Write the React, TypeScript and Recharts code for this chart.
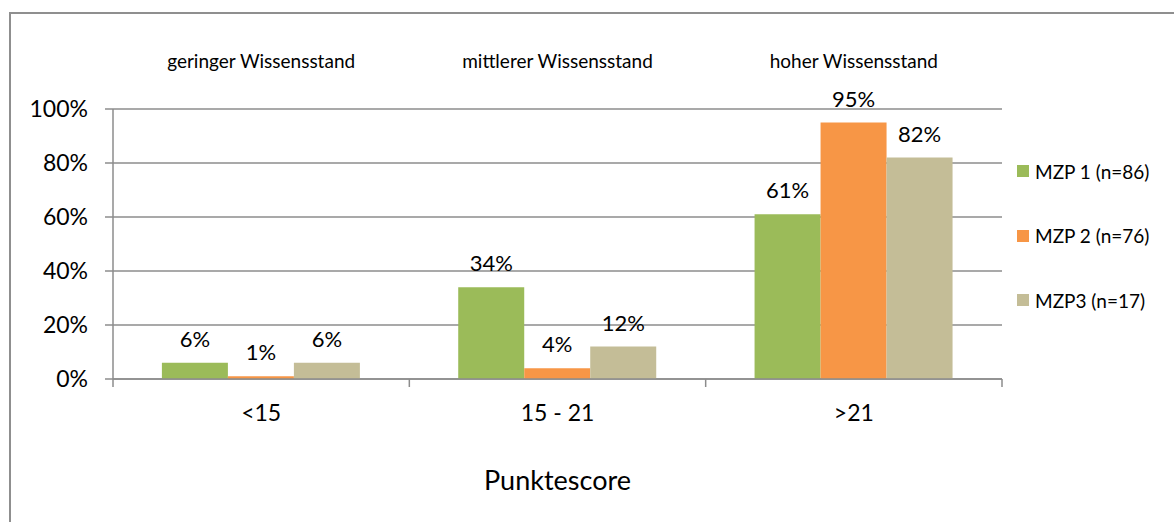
import React from "react";
import {
  BarChart,
  Bar,
  XAxis,
  YAxis,
  CartesianGrid,
  LabelList,
} from "recharts";

const scoreGroups = ["<15", "15 - 21", ">21"];
const knowledgeLevels = [
  "geringer Wissensstand",
  "mittlerer Wissensstand",
  "hoher Wissensstand",
];
const mzp1 = [6, 34, 61];
const mzp2 = [1, 4, 95];
const mzp3 = [6, 12, 82];
const yTicks = [0, 20, 40, 60, 80, 100];

const seriesNames = ["MZP 1 (n=86)", "MZP 2 (n=76)", "MZP3 (n=17)"];
const seriesColors = ["#9BBB59", "#F79646", "#C4BD97"];

const data = scoreGroups.map((g, i) => ({
  group: g,
  level: knowledgeLevels[i],
  mzp1: mzp1[i],
  mzp2: mzp2[i],
  mzp3: mzp3[i],
}));

const FONT = "Lato, 'Open Sans', sans-serif";
const GRID = "#8c8c8c";

const GroupTick = (props: any) => {
  const { x, y, payload, index, visibleTicksCount } = props;
  const half = payload.offset || 0;
  return (
    <g>
      <line x1={x - half} x2={x - half} y1={y - 8} y2={y} stroke={GRID} strokeWidth={1.5} />
      {index === visibleTicksCount - 1 && (
        <line x1={x + half} x2={x + half} y1={y - 8} y2={y} stroke={GRID} strokeWidth={1.5} />
      )}
      <text x={x} y={y + 34} textAnchor="middle" fontSize={23} fill="#000" fontFamily={FONT}>
        {payload.value}
      </text>
    </g>
  );
};

const LegendBox = () => (
  <div
    style={{
      position: "absolute",
      left: 1017,
      top: 139,
      width: 157,
      fontFamily: FONT,
      fontSize: 19,
      color: "#000",
    }}
  >
    {seriesNames.map((n, i) => (
      <div
        key={n}
        style={{ display: "flex", alignItems: "center", height: 64.5 }}
      >
        <span
          style={{
            width: 12,
            height: 12,
            background: seriesColors[i],
            marginRight: 6,
            display: "inline-block",
          }}
        />
        {n}
      </div>
    ))}
  </div>
);

export default function App() {
  return (
    <div
      style={{
        position: "absolute",
        left: 0,
        top: 0,
        width: 1174,
        height: 522,
        background: "#fff",
        overflow: "hidden",
      }}
    >
      <div
        style={{
          position: "absolute",
          left: 9,
          top: 12,
          width: 1200,
          height: 600,
          borderTop: "2px solid #8f8f8f",
          borderLeft: "2px solid #8f8f8f",
        }}
      />
      <div style={{ position: "absolute", left: 0, top: 0 }}>
        <BarChart
          width={1174}
          height={522}
          data={data}
          margin={{ top: 59, right: 172, bottom: 20, left: 13 }}
          barCategoryGap="16.5%"
          barGap={0}
        >
          <CartesianGrid vertical={false} stroke={GRID} strokeWidth={1.5} />
          <XAxis
            dataKey="group"
            height={123}
            axisLine={{ stroke: GRID, strokeWidth: 1.5 }}
            tickLine={false}
            tick={<GroupTick />}
            interval={0}
            label={{
              value: "Punktescore",
              position: "insideBottom",
              offset: 12,
              fontSize: 27,
              fill: "#000",
              fontFamily: FONT,
            }}
          />
          <XAxis
            xAxisId="top"
            orientation="top"
            dataKey="level"
            height={50}
            axisLine={false}
            tickLine={false}
            interval={0}
            tickMargin={35}
            tick={{ fontSize: 19, fill: "#000", fontFamily: FONT }}
          />
          <YAxis
            width={100}
            domain={[0, 100]}
            ticks={yTicks}
            interval={0}
            tickFormatter={(v: number) => `${v}%`}
            axisLine={{ stroke: GRID, strokeWidth: 1.5 }}
            tickLine={{ stroke: GRID, strokeWidth: 1.5 }}
            tickSize={8}
            tickMargin={17}
            tick={{ fontSize: 23, fill: "#000", fontFamily: FONT }}
          />
          {["mzp1", "mzp2", "mzp3"].map((k, i) => (
            <Bar
              key={k}
              dataKey={k}
              name={seriesNames[i]}
              fill={seriesColors[i]}
              isAnimationActive={false}
            >
              <LabelList
                dataKey={k}
                position="top"
                offset={16}
                formatter={(v: any) => `${v}%`}
                style={{ fontSize: 22, fill: "#000", fontFamily: FONT }}
              />
            </Bar>
          ))}
        </BarChart>
      </div>
      <LegendBox />
    </div>
  );
}
